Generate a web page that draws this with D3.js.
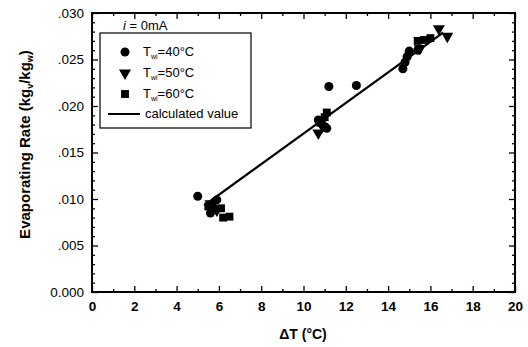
<!DOCTYPE html>
<html>
<head>
<meta charset="utf-8">
<script src="https://cdn.jsdelivr.net/npm/d3@7"></script>
<style>
  body { margin: 0; background: #fff; }
  text { font-family: "Liberation Sans", Arial, sans-serif; }
</style>
</head>
<body>
<div id="chart"></div>
<script>
// Evaporating rate vs ΔT, i = 0mA

// T_wi = 40°C (circles)
const circ40 = [
  [5.0, 0.0103], [5.6, 0.0085], [5.7, 0.0092], [5.9, 0.0099],
  [10.7, 0.0185], [10.9, 0.0180], [11.1, 0.0176], [11.2, 0.0221],
  [12.5, 0.0222], [14.7, 0.0240], [14.8, 0.0247], [14.9, 0.0253],
  [15.0, 0.0259], [15.4, 0.0260]
];
// T_wi = 50°C (down triangles)
const tri50 = [
  [5.6, 0.0095], [5.9, 0.0088], [10.7, 0.0171], [10.9, 0.0178],
  [15.5, 0.0262], [16.4, 0.0283], [16.8, 0.0275]
];
// T_wi = 60°C (squares)
const sq60 = [
  [5.5, 0.0092], [6.1, 0.0090], [6.2, 0.0080], [6.5, 0.0081],
  [10.8, 0.0182], [11.0, 0.0188], [11.1, 0.0193],
  [15.4, 0.0270], [15.7, 0.0271], [16.0, 0.0273]
];
// calculated value (straight line)
const calcX = [5.3, 16.6];
const calcY = [0.0093, 0.0279];

const xTicks = [0, 2, 4, 6, 8, 10, 12, 14, 16, 18, 20];
const yTicks = [0, 0.005, 0.010, 0.015, 0.020, 0.025, 0.030];
const yTickLabels = ["0.000", ".005", ".010", ".015", ".020", ".025", ".030"];

const W = 528, H = 347;
const margin = { top: 13, right: 13, bottom: 55, left: 92 },
      width = W - margin.left - margin.right,
      height = H - margin.top - margin.bottom;

const svg = d3.select("#chart").append("svg")
  .attr("width", W).attr("height", H);

const g = svg.append("g")
  .attr("transform", `translate(${margin.left},${margin.top})`);

const x = d3.scaleLinear().domain([0, 20]).range([0, width]);
const y = d3.scaleLinear().domain([0, 0.030]).range([height, 0]);

// minor ticks
const xMinor = d3.range(1, 20, 2);
const yMinor = d3.range(0, 31).map(d => d / 1000).filter(d => Math.round(d * 1000) % 5 !== 0);

function styleAxis(sel) {
  sel.select(".domain").remove();
  sel.selectAll("line").attr("stroke", "#000").attr("stroke-width", 1.3);
}

// bottom axis
g.append("g").attr("transform", `translate(0,${height})`)
  .call(d3.axisBottom(x).tickValues(xTicks).tickSizeInner(-6).tickSizeOuter(0).tickPadding(9).tickFormat(d3.format("d")))
  .call(styleAxis)
  .call(a => a.selectAll("text").attr("font-size", 13.5).attr("font-weight", "bold").attr("fill", "#000"));
g.append("g").attr("transform", `translate(0,${height})`)
  .call(d3.axisBottom(x).tickValues(xMinor).tickSize(-3).tickFormat(""))
  .call(styleAxis);

// top axis
g.append("g")
  .call(d3.axisTop(x).tickValues(xTicks).tickSize(-6).tickFormat(""))
  .call(styleAxis);
g.append("g")
  .call(d3.axisTop(x).tickValues(xMinor).tickSize(-3).tickFormat(""))
  .call(styleAxis);

// left axis
g.append("g")
  .call(d3.axisLeft(y).tickValues(yTicks).tickSizeInner(-6).tickSizeOuter(0).tickPadding(8)
    .tickFormat((d, i) => yTickLabels[i]))
  .call(styleAxis)
  .call(a => a.selectAll("text").attr("font-size", 13.5).attr("fill", "#000"));
g.append("g")
  .call(d3.axisLeft(y).tickValues(yMinor).tickSize(-3).tickFormat(""))
  .call(styleAxis);

// right axis
g.append("g").attr("transform", `translate(${width},0)`)
  .call(d3.axisRight(y).tickValues(yTicks).tickSize(-6).tickFormat(""))
  .call(styleAxis);
g.append("g").attr("transform", `translate(${width},0)`)
  .call(d3.axisRight(y).tickValues(yMinor).tickSize(-3).tickFormat(""))
  .call(styleAxis);

// frame
g.append("rect")
  .attr("width", width).attr("height", height)
  .attr("fill", "none").attr("stroke", "#000").attr("stroke-width", 2);

// calculated line
const line = d3.line().x(d => x(d[0])).y(d => y(d[1]));
g.append("path")
  .datum(calcX.map((v, i) => [v, calcY[i]]))
  .attr("fill", "none").attr("stroke", "#000").attr("stroke-width", 2.2)
  .attr("d", line);

// markers
const symCircle = d3.symbol().type(d3.symbolCircle).size(64);
const symTri = d3.symbol().type(d3.symbolTriangle).size(62);
const symSquare = d3.symbol().type(d3.symbolSquare).size(62);

g.append("g").selectAll("path").data(circ40).join("path")
  .attr("d", symCircle)
  .attr("transform", d => `translate(${x(d[0])},${y(d[1])})`)
  .attr("fill", "#000");

g.append("g").selectAll("path").data(tri50).join("path")
  .attr("d", symTri)
  .attr("transform", d => `translate(${x(d[0])},${y(d[1])}) rotate(180)`)
  .attr("fill", "#000");

g.append("g").selectAll("path").data(sq60).join("path")
  .attr("d", symSquare)
  .attr("transform", d => `translate(${x(d[0])},${y(d[1])})`)
  .attr("fill", "#000");

// annotation i = 0mA
const ann = svg.append("text")
  .attr("x", 123).attr("y", 30)
  .attr("font-size", 13).attr("fill", "#000");
ann.append("tspan").attr("font-style", "italic").text("i");
ann.append("tspan").text(" = 0mA");

// legend
const legend = svg.append("g");
legend.append("rect")
  .attr("x", 100).attr("y", 33).attr("width", 151).attr("height", 95)
  .attr("fill", "#fff").attr("stroke", "#000").attr("stroke-width", 1.2);

const legItems = [
  { sym: symCircle, rot: 0, t: "40°C" },
  { sym: symTri, rot: 180, t: "50°C" },
  { sym: symSquare, rot: 0, t: "60°C" }
];
const legRowY = [52, 73, 94, 114];

legItems.forEach((it, i) => {
  legend.append("path")
    .attr("d", it.sym)
    .attr("transform", `translate(125,${legRowY[i]}) rotate(${it.rot})`)
    .attr("fill", "#000");
  const t = legend.append("text")
    .attr("x", 143).attr("y", legRowY[i] + 4)
    .attr("font-size", 13).attr("fill", "#000");
  t.append("tspan").text("T");
  t.append("tspan").attr("font-size", 7).attr("dy", 3).text("wi");
  t.append("tspan").attr("dy", -3).text("=" + it.t);
});
legend.append("line")
  .attr("x1", 108).attr("x2", 140)
  .attr("y1", legRowY[3]).attr("y2", legRowY[3])
  .attr("stroke", "#000").attr("stroke-width", 2);
legend.append("text")
  .attr("x", 145).attr("y", legRowY[3] + 4)
  .attr("font-size", 13).attr("fill", "#000")
  .text("calculated value");

// axis titles
svg.append("text")
  .attr("x", 303).attr("y", 339)
  .attr("text-anchor", "middle")
  .attr("font-size", 14).attr("font-weight", "bold")
  .text("ΔT (°C)");

const yl = svg.append("text")
  .attr("transform", `translate(30,${margin.top + height / 2 - 8}) rotate(-90)`)
  .attr("text-anchor", "middle")
  .attr("font-size", 15).attr("font-weight", "bold");
yl.append("tspan").text("Evaporating Rate (kg");
yl.append("tspan").attr("font-size", 9).attr("dy", 3).text("v");
yl.append("tspan").attr("dy", -3).text("/kg");
yl.append("tspan").attr("font-size", 9).attr("dy", 3).text("w");
yl.append("tspan").attr("dy", -3).text(")");
</script>
</body>
</html>
